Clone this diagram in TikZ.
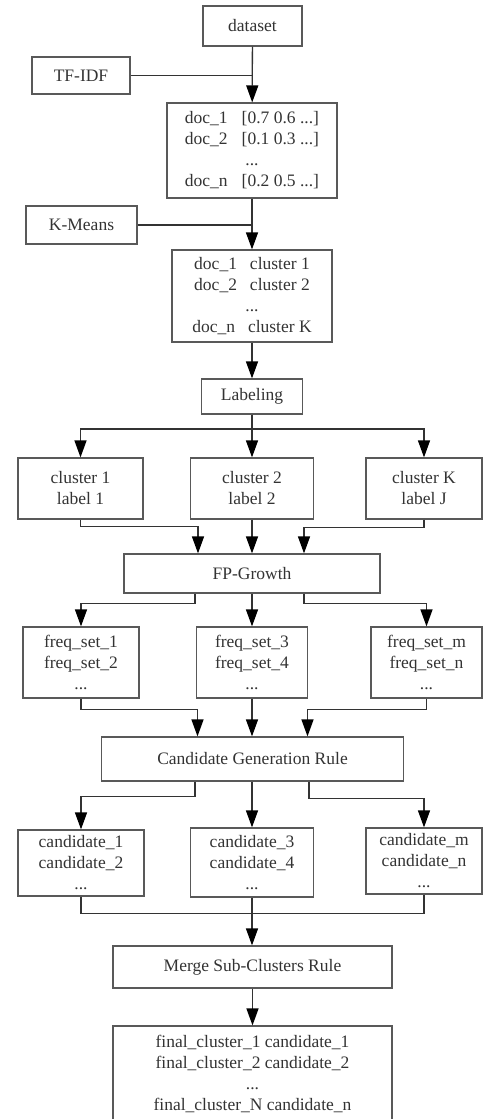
\documentclass[tikz,border=0pt]{standalone}
\usepackage{fontspec}
\newfontfamily\boxfont{Liberation Serif}
\usetikzlibrary{arrows.meta,calc}

\begin{document}
\begin{tikzpicture}[x=0.5pt,y=-0.5pt,
  box/.style={draw=black!65,line width=0.6pt,inner sep=0pt,align=center,text=black!80,
    font=\boxfont\fontsize{8.75}{10.5}\selectfont},
  sz/.style 2 args={minimum width=#1*0.5pt,minimum height=#2*0.5pt},
  line/.style={draw=black!80,line width=0.65pt},
  arr/.style={line,-{Triangle[length=8.5pt,width=6pt,color=black]}}]
		%%%%% START %%%%%
		\useasboundingbox (0,0) rectangle (483,1119);

		\node[box,sz={99}{40}] (dataset) at (252.5,26) {dataset};
		\node[box,sz={98}{37}] (tfidf) at (81,75.5) {TF-IDF};
		\node[box,sz={170}{95}] (vectors) at (252,150.5) {doc\_1\hspace{7pt}[0.7 0.6 ...]\\doc\_2\hspace{7pt}[0.1 0.3 ...]\\...\\doc\_n\hspace{7pt}[0.2 0.5 ...]};
		\node[box,sz={111}{38}] (kmeans) at (81.5,225) {K-Means};
		\node[box,sz={160}{92}] (assign) at (252,296) {doc\_1\hspace{6.5pt}cluster 1\\doc\_2\hspace{6.5pt}cluster 2\\...\\doc\_n\hspace{6.5pt}cluster K};
		\node[box,sz={101}{35}] (labeling) at (252,396.5) {Labeling};

		\node[box,sz={125}{61}] (clu1) at (80.5,488.5) {cluster 1\\label 1};
		\node[box,sz={123}{61}] (clu2) at (252,488.5) {cluster 2\\label 2};
		\node[box,sz={116}{61}] (cluK) at (424,488.5) {cluster K\\label J};
		\node[box,sz={256}{39}] (fpgrowth) at (252,573.5) {FP-Growth};

		\node[box,sz={116}{71}] (freq1) at (81,662.5) {freq\_set\_1\\freq\_set\_2\\...};
		\node[box,sz={111}{71}] (freq3) at (252,662.5) {freq\_set\_3\\freq\_set\_4\\...};
		\node[box,sz={111}{71}] (freqm) at (426.5,662.5) {freq\_set\_m\\freq\_set\_n\\...};
		\node[box,sz={302}{44}] (cgr) at (252.5,759) {Candidate Generation Rule};

		\node[box,sz={126}{66}] (cand1) at (81,863) {candidate\_1\\candidate\_2\\...};
		\node[box,sz={123}{69}] (cand3) at (252,862.5) {candidate\_3\\candidate\_4\\...};
		\node[box,sz={116}{66}] (candm) at (424,861) {candidate\_m\\candidate\_n\\...};
		\node[box,sz={279}{42}] (merge) at (252.5,967) {Merge Sub-Clusters Rule};
		\node[box,sz={279}{96}] (final) at (252.5,1074) {final\_cluster\_1 candidate\_1\\final\_cluster\_2 candidate\_2\\...\\final\_cluster\_N candidate\_n};

		\draw[arr] (dataset) -- (vectors);
		\draw[line] (tfidf) -- (tfidf -| dataset);
		\draw[arr] (vectors) -- (assign);
		\draw[line] (kmeans) -- (kmeans -| vectors);
		\draw[arr] (assign) -- (labeling);

		\coordinate (split1) at (252,429);
		\draw[arr] (labeling) -- (clu2);
		\draw[arr] (labeling.south) -- (split1) -| (clu1.north);
		\draw[arr] (labeling.south) -- (split1) -| (cluK.north);

		\draw[arr] (clu1.south) -- ++(0,7) -| ([xshift=-27pt]fpgrowth.north);
		\draw[arr] (clu2) -- (fpgrowth);
		\draw[arr] (cluK.south) -- ++(0,8) -| ([xshift=26pt]fpgrowth.north);

		\draw[arr] ([xshift=-28.5pt]fpgrowth.south) -- ++(0,10) -| (freq1.north);
		\draw[arr] (fpgrowth) -- (freq3);
		\draw[arr] ([xshift=26pt]fpgrowth.south) -- ++(0,10) -| (freqm.north);

		\draw[arr] (freq1.south) -- ++(0,11) -| ([xshift=-27.5pt]cgr.north);
		\draw[arr] (freq3) -- (cgr.north -| freq3);
		\draw[arr] (freqm.south) -- ++(0,11) -| ([xshift=27.5pt]cgr.north);

		\draw[arr] ([xshift=-28.75pt]cgr.south) -- ++(0,15) -| (cand1.north);
		\draw[arr] (cgr.south -| cand3) -- (cand3);
		\draw[arr] ([xshift=28.25pt]cgr.south) -- ++(0,17) -| (candm.north);

		\draw[line] (cand1.south) -- ++(0,17) -| (candm.south);
		\draw[arr] (cand3) -- (merge.north -| cand3);
		\draw[arr] (merge) -- (final);
		%%%%% END %%%%%
\end{tikzpicture}
\end{document}
